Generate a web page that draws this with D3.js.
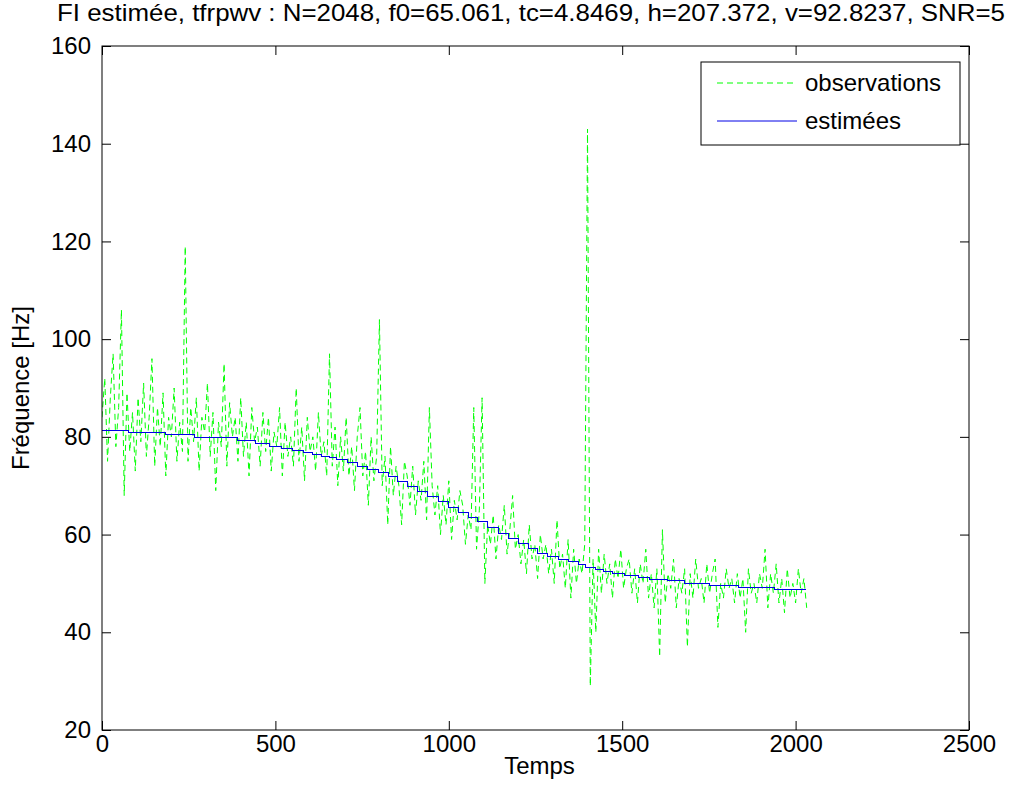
<!DOCTYPE html>
<html>
<head>
<meta charset="utf-8">
<script src="https://cdn.jsdelivr.net/npm/d3@7"></script>
<style>
  body { margin: 0; background: #fff; }
  svg { font-family: "Liberation Sans", Arial, sans-serif; }
</style>
</head>
<body>
<svg id="chart"></svg>
<script>
// Données
const titre = "FI estimée, tfrpwv : N=2048, f0=65.061, tc=4.8469, h=207.372, v=92.8237, SNR=5";
const xTicks = [0, 500, 1000, 1500, 2000, 2500];
const yTicks = [20, 40, 60, 80, 100, 120, 140, 160];
const pasObs = 8; // un échantillon tous les 8 instants

// observations (FI mesurée), t = 0, 8, 16, ... 2032
const obsF = [
  84, 92, 75, 88, 97, 78, 86, 106, 68, 89,
  77, 85, 73, 88, 79, 91, 76, 84, 96, 74,
  86, 78, 89, 72, 84, 80, 90, 75, 83, 77,
  119, 75, 86, 79, 88, 73, 84, 81, 91, 76,
  85, 69, 83, 78, 95, 74, 87, 80, 84, 75,
  88, 76, 83, 72, 86, 79, 82, 74, 85, 77,
  84, 73, 81, 78, 86, 72, 83, 76, 80, 74,
  90, 75, 82, 71, 84, 77, 80, 73, 85, 76,
  79, 72, 97, 74, 82, 70, 80, 73, 84, 72,
  78, 69, 80, 86, 72, 77, 66, 80, 71, 76,
  104, 70, 76, 62, 78, 68, 74, 70, 62, 75,
  72, 66, 74, 64, 71, 67, 75, 63, 86, 70,
  64, 70, 60, 68, 62, 71, 59, 67, 63, 69,
  66, 58, 64, 61, 86, 57, 65, 88, 50, 62,
  58, 64, 55, 62, 59, 66, 56, 61, 68, 57,
  60, 54, 59, 52, 62, 55, 58, 51, 60, 55,
  58, 52, 57, 50, 63, 53, 56, 49, 59, 47,
  57, 50, 55, 52, 58, 143, 29, 55, 40, 57,
  48, 56, 50, 54, 47, 55, 51, 57, 49, 53,
  55, 48, 53, 46, 54, 50, 57, 47, 52, 45,
  53, 35, 61, 46, 52, 49, 55, 45, 51, 48,
  53, 37, 52, 47, 55, 49, 51, 46, 54, 48,
  52, 55, 41, 50, 47, 53, 49, 51, 46, 52,
  47, 51, 40, 53, 48, 50, 46, 52, 49, 57,
  45, 52, 48, 54, 46, 51, 44, 53, 47, 50,
  46, 53, 48, 51, 45
];

// FI estimée (escalier)
const estT = [0, 75, 182, 268, 392, 444, 484, 517, 550, 580, 608, 632, 657, 676,
  709, 738, 767, 796, 825, 853, 882, 911, 940, 969, 998, 1027, 1056, 1084, 1113,
  1142, 1171, 1200, 1229, 1257, 1286, 1315, 1344, 1373, 1393, 1422, 1445, 1473,
  1508, 1546, 1580, 1632, 1681, 1753, 1834, 1938, 2030];
const estF = [81.2, 80.8, 80.4, 79.8, 79.2, 78.6, 78.1, 77.7, 77.3, 76.9, 76.4, 76.0, 75.7, 75.4,
  74.8, 74.0, 73.4, 72.7, 71.8, 70.8, 69.8, 68.8, 67.8, 66.7, 65.6, 64.5, 63.5, 62.6, 61.4,
  60.2, 59.1, 58.1, 57.1, 56.2, 55.6, 55.0, 54.4, 53.8, 53.3, 52.8, 52.4, 52.1,
  51.7, 51.2, 50.9, 50.5, 50.0, 49.6, 49.2, 48.8, 48.8];

const width = 1013, height = 802;
const margin = { top: 46, right: 44, bottom: 72, left: 102 };
const fs = "24px";

const svg = d3.select("#chart")
  .attr("width", width)
  .attr("height", height);

const x = d3.scaleLinear()
  .domain([0, 2500])
  .range([margin.left, width - margin.right]);

const y = d3.scaleLinear()
  .domain([20, 160])
  .range([height - margin.bottom, margin.top]);

const obs = obsF.map((f, i) => ({ t: i * pasObs, f: f }));
const est = estT.map((t, i) => ({ t: t, f: estF[i] }));

svg.append("clipPath").attr("id", "zone")
  .append("rect")
  .attr("x", margin.left).attr("y", margin.top)
  .attr("width", x(2500) - x(0)).attr("height", y(20) - y(160));

// courbe des observations
svg.append("path")
  .datum(obs)
  .attr("clip-path", "url(#zone)")
  .attr("fill", "none")
  .attr("stroke", "#00ff00")
  .attr("stroke-width", 1)
  .attr("stroke-dasharray", "6,4")
  .attr("d", d3.line().x(d => x(d.t)).y(d => y(d.f)));

// courbe estimée
svg.append("path")
  .datum(est)
  .attr("fill", "none")
  .attr("stroke", "#0000e6")
  .attr("stroke-width", 1)
  .attr("shape-rendering", "crispEdges")
  .attr("d", d3.line().curve(d3.curveStepAfter).x(d => x(d.t)).y(d => y(d.f)));

// axes (ticks vers l'intérieur, sur les quatre côtés)
const tickLen = 9;
const styleAxe = g => {
  g.select(".domain").remove();
  g.selectAll(".tick line").attr("stroke", "#000");
  g.selectAll(".tick text").attr("fill", "#000").style("font-size", fs);
};

svg.append("g")
  .attr("transform", `translate(0,${y(20)})`)
  .call(d3.axisBottom(x).tickValues(xTicks).tickFormat(d3.format("d"))
    .tickSizeInner(-tickLen).tickSizeOuter(0).tickPadding(4))
  .call(styleAxe)
  .selectAll(".tick text").attr("dy", "0.75em");

svg.append("g")
  .attr("transform", `translate(0,${y(160)})`)
  .call(d3.axisTop(x).tickValues(xTicks).tickFormat("")
    .tickSizeInner(-tickLen).tickSizeOuter(0))
  .call(styleAxe);

svg.append("g")
  .attr("transform", `translate(${x(0)},0)`)
  .call(d3.axisLeft(y).tickValues(yTicks).tickFormat(d3.format("d"))
    .tickSizeInner(-tickLen).tickSizeOuter(0).tickPadding(11))
  .call(styleAxe);

svg.append("g")
  .attr("transform", `translate(${x(2500)},0)`)
  .call(d3.axisRight(y).tickValues(yTicks).tickFormat("")
    .tickSizeInner(-tickLen).tickSizeOuter(0))
  .call(styleAxe);

// cadre
svg.append("rect")
  .attr("x", x(0)).attr("y", y(160))
  .attr("width", x(2500) - x(0)).attr("height", y(20) - y(160))
  .attr("fill", "none").attr("stroke", "#000").attr("stroke-width", 1);

// titre et libellés
svg.append("text")
  .attr("x", 57).attr("y", 21)
  .attr("textLength", 948).attr("lengthAdjust", "spacingAndGlyphs")
  .style("font-size", fs)
  .text(titre);

svg.append("text")
  .attr("x", (x(0) + x(2500)) / 2 + 4).attr("y", 774)
  .attr("text-anchor", "middle")
  .style("font-size", fs)
  .text("Temps");

svg.append("text")
  .attr("transform", `translate(29,${(y(20) + y(160)) / 2}) rotate(-90)`)
  .attr("text-anchor", "middle")
  .style("font-size", fs)
  .text("Fréquence [Hz]");

// légende
const leg = svg.append("g").attr("transform", "translate(701,62)");
leg.append("rect")
  .attr("width", 259).attr("height", 83)
  .attr("fill", "#fff").attr("stroke", "#000").attr("stroke-width", 1);

const legItems = [
  { label: "observations", color: "#00ff00", dash: "6,4" },
  { label: "estimées", color: "#0000e6", dash: null }
];
legItems.forEach((d, i) => {
  const yy = 21 + i * 38;
  leg.append("line")
    .attr("x1", 16).attr("x2", 96).attr("y1", yy).attr("y2", yy)
    .attr("stroke", d.color).attr("stroke-width", 1)
    .attr("stroke-dasharray", d.dash);
  leg.append("text")
    .attr("x", 104).attr("y", yy + 8)
    .style("font-size", fs)
    .text(d.label);
});
</script>
</body>
</html>
